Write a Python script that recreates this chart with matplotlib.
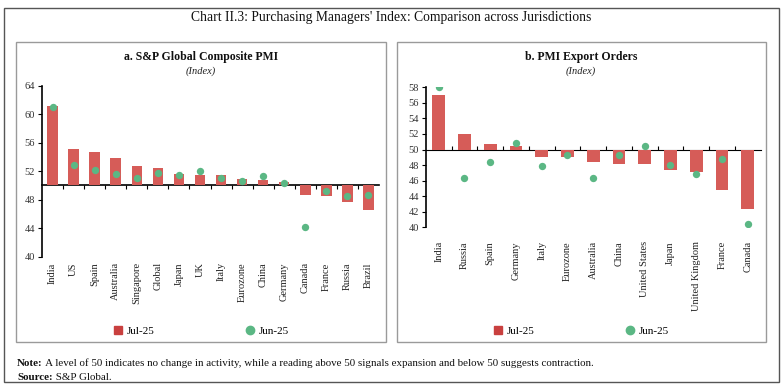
import matplotlib
matplotlib.use("Agg")
import matplotlib.pyplot as plt
import numpy as np
from matplotlib.patches import Rectangle
from matplotlib.lines import Line2D

# ---------------- data ----------------
cats_a = ["India", "US", "Spain", "Australia", "Singapore", "Global", "Japan", "UK",
          "Italy", "Eurozone", "China", "Germany", "Canada", "France", "Russia", "Brazil"]
jul_a = [61.1, 55.1, 54.7, 53.8, 52.7, 52.4, 51.6, 51.5, 51.5, 50.9, 50.8, 50.5,
         48.6, 48.5, 47.7, 46.6]
jun_a = [61.0, 52.9, 52.1, 51.6, 51.0, 51.7, 51.5, 52.0, 51.1, 50.6, 51.3, 50.4,
         44.1, 49.2, 48.5, 48.7]

cats_b = ["India", "Russia", "Spain", "Germany", "Italy", "Eurozone", "Australia", "China",
          "United States", "Japan", "United Kingdom", "France", "Canada"]
jul_b = [57.0, 52.0, 50.7, 50.4, 49.1, 49.0, 48.4, 48.1, 48.1, 47.4, 47.1, 44.8, 42.3]
jun_b = [58.0, 46.3, 48.4, 50.8, 47.9, 49.3, 46.4, 49.3, 50.5, 48.0, 46.9, 48.8, 40.4]

yticks_a = [40, 44, 48, 52, 56, 60, 64]
yticks_b = [40, 42, 44, 46, 48, 50, 52, 54, 56, 58]

legend_labels = ["Jul-25", "Jun-25"]

BAR = "#D65C58"
DOT = "#5BB784"
LEG_BAR = "#C9403F"
TXT = "#222222"
FONT = "Liberation Serif"

W, H = 783, 387
fig = plt.figure(figsize=(W / 100, H / 100), dpi=100)
plt.rcParams["font.family"] = FONT


def fx(px):
    return px / W


def fy(py):
    return 1 - py / H


# outer border
fig.patches.append(Rectangle((fx(4), fy(382)), fx(775), (378 - 4) / H, transform=fig.transFigure,
                             fill=False, edgecolor="#555555", lw=1.0))
# panel borders
for (x0, x1) in [(16, 386), (397, 766)]:
    fig.patches.append(Rectangle((fx(x0), fy(342)), fx(x1 - x0), (342 - 42) / H,
                                 transform=fig.transFigure, fill=False,
                                 edgecolor="#9a9a9a", lw=1.0))

fig.text(0.5, fy(17), "Chart II.3: Purchasing Managers' Index: Comparison across Jurisdictions",
         ha="center", va="center", fontsize=9.8, color="#111111")


def panel(rect, cats, jul, jun, ylo, yhi, yticks, title, center_px, lab_pad, leg_y):
    ax = fig.add_axes(rect)
    n = len(cats)
    x = np.arange(n)
    ax.bar(x, np.array(jul) - 50, bottom=50, width=0.5, color=BAR, zorder=2)
    ax.scatter(x, jun, s=28, color=DOT, zorder=3, linewidths=0)
    ax.set_xlim(-0.5, n - 0.5)
    ax.set_ylim(ylo, yhi)
    ax.set_yticks(yticks)
    ax.set_xticks(x)
    ax.set_xticklabels(cats, rotation=90, va="top", ha="center")
    ax.tick_params(axis="x", length=0, pad=lab_pad, labelsize=7.5, labelcolor=TXT)
    ax.tick_params(axis="y", length=3, width=0.8, labelsize=7.5, labelcolor="#333333", pad=2)
    for s in ["top", "right", "bottom"]:
        ax.spines[s].set_visible(False)
    ax.spines["left"].set_linewidth(1.2)
    ax.patch.set_alpha(0)
    # 50 line with boundary ticks
    loc = (50 - ylo) / (yhi - ylo)
    sec = ax.secondary_xaxis(loc)
    sec.set_xticks(np.arange(0.5, n - 0.5, 1.0))
    sec.set_xticklabels([])
    sec.tick_params(axis="x", length=3, width=0.8, direction="out")
    sec.spines["bottom"].set_linewidth(1.2)
    # titles
    fig.text(fx(center_px), fy(57), title, ha="center", va="center", fontsize=8.5,
             fontweight="bold", color="#111111")
    fig.text(fx(center_px), fy(71), "(Index)", ha="center", va="center", fontsize=7.5,
             style="italic", color="#222222")
    # legend
    h1 = Line2D([], [], marker="s", linestyle="none", markersize=6, color=LEG_BAR)
    h2 = Line2D([], [], marker="o", linestyle="none", markersize=6, color=DOT)
    ax.legend([h1, h2], legend_labels, loc="center", ncol=2, frameon=False,
              bbox_to_anchor=(fx(center_px), fy(leg_y)), bbox_transform=fig.transFigure,
              fontsize=8, handlelength=0.8, handletextpad=0.4, columnspacing=8.2,
              borderaxespad=0, borderpad=0)
    return ax


panel([fx(42), fy(256.7), fx(337), (256.7 - 85.7) / H], cats_a, jul_a, jun_a, 40, 64,
      yticks_a, "a. S&P Global Composite PMI", 201, 4, 331)
panel([fx(425.8), fy(227.3), fx(334.8), (227.3 - 87.3) / H], cats_b, jul_b, jun_b, 40, 58,
      yticks_b, "b. PMI Export Orders", 581, 10, 331)

# notes
NOTE_FS = 7.9
t1 = fig.text(fx(17), fy(363), "Note:", ha="left", va="center", fontsize=NOTE_FS,
              fontweight="bold", color="#111111")
t2 = fig.text(fx(17), fy(377), "Source:", ha="left", va="center", fontsize=NOTE_FS,
              fontweight="bold", color="#111111")
fig.canvas.draw()
r = fig.canvas.get_renderer()
for t, s, yy in [(t1, " A level of 50 indicates no change in activity, while a reading above 50 signals expansion and below 50 suggests contraction.", 363),
                 (t2, " S&P Global.", 377)]:
    bb = t.get_window_extent(r)
    fig.text(bb.x1 / W, fy(yy), s, ha="left", va="center", fontsize=NOTE_FS, color="#111111")

fig.savefig("out.png", dpi=100)
